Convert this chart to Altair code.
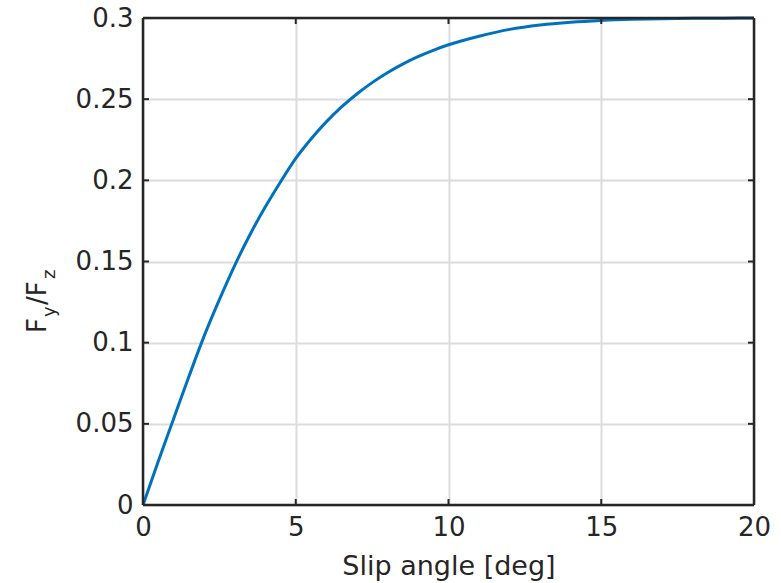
import altair as alt
import pandas as pd

# Curve (slip angle in deg, Fy/Fz)
slip_angle = [0, 0.5, 1, 1.5, 2, 2.5, 3, 3.5, 4, 4.5, 5, 5.5, 6, 6.5, 7, 7.5,
              8, 8.5, 9, 9.5, 10, 11, 12, 13, 14, 15, 16, 17, 18, 19, 20]
fy_fz = [0, 0.027, 0.053, 0.079, 0.104, 0.1265, 0.1475, 0.1665, 0.1835,
         0.199, 0.2135, 0.2255, 0.2360, 0.2452, 0.2532, 0.2602, 0.2663,
         0.2716, 0.2762, 0.2801, 0.2835, 0.2888, 0.2930, 0.2957, 0.2974,
         0.2985, 0.2992, 0.2996, 0.2998, 0.2999, 0.3]

x_ticks = [0, 5, 10, 15, 20]
y_ticks = [0, 0.05, 0.1, 0.15, 0.2, 0.25, 0.3]

W, H = 611, 487
FONT = "DejaVu Sans"
TXT = "#262626"

df = pd.DataFrame({"x": slip_angle, "y": fy_fz})
xt = pd.DataFrame({"x": x_ticks})
yt = pd.DataFrame({"y": y_ticks})

xs = alt.Scale(domain=[0, 20], nice=False)
ys = alt.Scale(domain=[0, 0.3], nice=False)
xaxis = alt.Axis(values=x_ticks, format="~g", title="Slip angle [deg]")
yaxis = alt.Axis(values=y_ticks, format="~g", title=None)

X = alt.X("x:Q", scale=xs, axis=xaxis)
Y = alt.Y("y:Q", scale=ys, axis=yaxis)

line = alt.Chart(df).mark_line(color="#0072BD", strokeWidth=3,
                               interpolate="monotone").encode(x=X, y=Y)

# inward ticks on all four sides (MATLAB box style)
tick_style = dict(color=TXT, strokeWidth=2)
tb = alt.Chart(xt).mark_rule(**tick_style).encode(
    x=X, y=alt.value(H), y2=alt.value(H - 6))
tt = alt.Chart(xt).mark_rule(**tick_style).encode(
    x=X, y=alt.value(0), y2=alt.value(6))
tl = alt.Chart(yt).mark_rule(**tick_style).encode(
    y=Y, x=alt.value(0), x2=alt.value(6))
tr = alt.Chart(yt).mark_rule(**tick_style).encode(
    y=Y, x=alt.value(W), x2=alt.value(W - 6))

# box frame drawn above the grid
frame_style = dict(color=TXT, strokeWidth=2.5)
base = alt.Chart(pd.DataFrame({"k": [0]}))
f_top = base.mark_rule(**frame_style).encode(
    x=alt.value(0), x2=alt.value(W), y=alt.value(0))
f_bot = base.mark_rule(**frame_style).encode(
    x=alt.value(0), x2=alt.value(W), y=alt.value(H))
f_left = base.mark_rule(**frame_style).encode(
    x=alt.value(0), y=alt.value(0), y2=alt.value(H))
f_right = base.mark_rule(**frame_style).encode(
    x=alt.value(W), y=alt.value(0), y2=alt.value(H))


# Y-axis title "F_y/F_z" with subscripts, rotated
def ttext(s, size, xpos, ypos):
    return alt.Chart(pd.DataFrame({"t": [s]})).mark_text(
        angle=270, align="left", baseline="alphabetic", font=FONT,
        fontSize=size, color=TXT).encode(
        text="t:N", x=alt.value(xpos), y=alt.value(ypos))


ytitle = (ttext("F", 26, -97, 315) + ttext("y", 18, -88, 299)
          + ttext("/F", 26, -97, 287) + ttext("z", 18, -88, 261))

chart = alt.layer(line, tb, tt, tl, tr, f_top, f_bot, f_left, f_right,
                  ytitle).properties(
    width=W, height=H,
    background="white",
    autosize=alt.AutoSizeParams(type="none"),
    padding={"left": 143, "top": 18, "right": 27, "bottom": 78},
).configure_view(
    stroke=None
).configure_axis(
    labelFont=FONT, labelFontSize=26, labelColor=TXT,
    titleFont=FONT, titleFontSize=27, titleColor=TXT, titleFontWeight="normal",
    ticks=False, domain=False, grid=True, gridColor="#dcdcdc", gridWidth=2,
    labelPadding=10, labelFlush=False, labelOverlap=False,
).configure_axisX(titlePadding=13, labelPadding=9)

chart.save("out.html", embed_options={"renderer": "svg", "actions": False})
